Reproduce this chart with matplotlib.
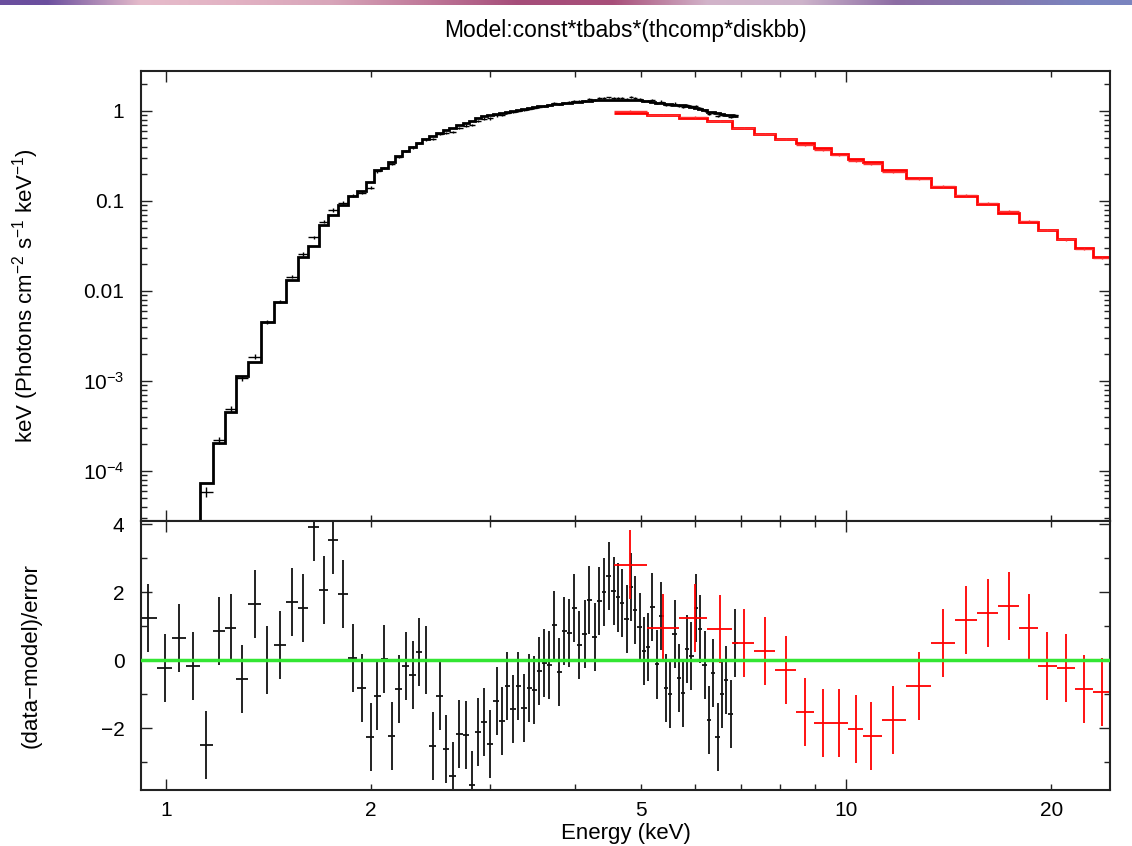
import numpy as np
import matplotlib.pyplot as plt
from matplotlib.colors import to_rgb

plt.rcParams['font.family'] = ['Liberation Sans', 'DejaVu Sans']
plt.rcParams['mathtext.fontset'] = 'custom'
plt.rcParams['mathtext.rm'] = 'Liberation Sans'
plt.rcParams['mathtext.it'] = 'Liberation Sans:italic'
plt.rcParams['mathtext.bf'] = 'Liberation Sans:bold'

# black spectrum (low energy instrument): bin centres (keV)
black_energy = [0.942, 0.999, 1.046, 1.097, 1.148, 1.196, 1.246, 1.295, 1.352, 1.411,
                1.471, 1.534, 1.591, 1.651, 1.706, 1.761, 1.823, 1.882, 1.941, 2.000,
                2.045, 2.095, 2.147, 2.199, 2.254, 2.306, 2.355, 2.412, 2.467, 2.529,
                2.581, 2.640, 2.700, 2.759, 2.821, 2.879, 2.935, 2.995, 3.064, 3.122,
                3.176, 3.241, 3.296, 3.361, 3.421, 3.480, 3.539, 3.600, 3.662, 3.724,
                3.788, 3.853, 3.919, 3.986, 4.054, 4.124, 4.194, 4.266, 4.335, 4.404,
                4.479, 4.549, 4.617, 4.685, 4.754, 4.825, 4.895, 4.967, 5.041, 5.110,
                5.190, 5.268, 5.345, 5.431, 5.511, 5.592, 5.668, 5.746, 5.832, 5.918,
                6.013, 6.101, 6.190, 6.283, 6.375, 6.469, 6.566, 6.662, 6.760, 6.868]
black_model = [5e-7, 1.8e-6, 6e-6, 2.0e-5, 7.4e-5, 2.06e-4, 4.49e-4, 1.14e-3, 1.64e-3, 4.49e-3,
               7.49e-3, 0.0133, 0.0237, 0.0319, 0.0537, 0.0699, 0.0903, 0.1146, 0.130, 0.161,
               0.221, 0.234, 0.274, 0.318, 0.361, 0.399, 0.438, 0.482, 0.525, 0.576,
               0.613, 0.654, 0.695, 0.738, 0.782, 0.826, 0.868, 0.895, 0.926, 0.953,
               0.976, 1.005, 1.028, 1.058, 1.082, 1.102, 1.122, 1.142, 1.163, 1.181,
               1.199, 1.214, 1.233, 1.249, 1.262, 1.278, 1.291, 1.308, 1.322, 1.327,
               1.329, 1.329, 1.332, 1.332, 1.334, 1.335, 1.329, 1.308, 1.291, 1.275,
               1.255, 1.240, 1.224, 1.208, 1.193, 1.178, 1.166, 1.151, 1.139, 1.119,
               1.082, 1.050, 1.018, 0.985, 0.962, 0.945, 0.929, 0.912, 0.896, 0.880]
black_flux = [5.6e-7, 1.75e-6, 6.5e-6, 1.95e-5, 5.9e-5, 2.21e-4, 4.85e-4, 1.07e-3, 1.86e-3, 4.49e-3,
              7.6e-3, 0.0144, 0.0256, 0.0395, 0.0589, 0.0794, 0.0958, 0.1146, 0.1237, 0.1406,
              0.213, 0.234, 0.256, 0.310, 0.359, 0.394, 0.441, 0.482, 0.485, 0.558,
              0.565, 0.587, 0.650, 0.689, 0.696, 0.774, 0.821, 0.828, 0.892, 0.902,
              0.957, 0.969, 1.008, 1.020, 1.060, 1.078, 1.113, 1.139, 1.159, 1.211,
              1.188, 1.240, 1.258, 1.297, 1.276, 1.303, 1.348, 1.330, 1.379, 1.394,
              1.411, 1.397, 1.393, 1.388, 1.374, 1.422, 1.388, 1.346, 1.301, 1.289,
              1.313, 1.235, 1.272, 1.178, 1.157, 1.205, 1.148, 1.118, 1.150, 1.123,
              1.132, 1.079, 1.013, 0.933, 0.951, 0.881, 0.901, 0.896, 0.853, 0.893]
black_ferr = [0.12, 0.12, 0.12, 0.12, 0.12, 0.09, 0.08, 0.07, 0.06, 0.05,
              0.045, 0.045, 0.045, 0.04, 0.04, 0.04, 0.04, 0.04, 0.04, 0.04,
              0.04, 0.03, 0.03, 0.03, 0.03, 0.03, 0.03, 0.03, 0.03, 0.03,
              0.03, 0.03, 0.03, 0.03, 0.03, 0.03, 0.03, 0.03, 0.03, 0.03,
              0.025, 0.025, 0.025, 0.025, 0.025, 0.025, 0.025, 0.025, 0.025, 0.025,
              0.025, 0.025, 0.025, 0.025, 0.025, 0.025, 0.025, 0.025, 0.025, 0.025,
              0.025, 0.025, 0.025, 0.025, 0.025, 0.03, 0.03, 0.03, 0.03, 0.03,
              0.03, 0.03, 0.03, 0.03, 0.03, 0.03, 0.03, 0.03, 0.03, 0.03,
              0.03, 0.03, 0.03, 0.03, 0.03, 0.03, 0.03, 0.03, 0.03, 0.03]
black_resid = [1.24, -0.22, 0.64, -0.17, -2.5, 0.85, 0.93, -0.55, 1.64, 0.0,
               0.45, 1.72, 1.53, 3.9, 2.06, 3.54, 1.94, 0.07, -0.83, -2.27,
               -1.06, 0.04, -2.23, -0.84, -0.18, -0.44, 0.23, 0.0, -2.54, -1.05,
               -2.61, -3.41, -2.17, -2.21, -3.66, -2.11, -1.81, -2.48, -1.21, -1.79,
               -0.76, -1.44, -0.76, -1.42, -0.81, -0.88, -0.32, -0.1, -0.15, 1.03,
               -0.36, 0.86, 0.80, 1.53, 0.44, 0.78, 1.78, 0.67, 1.73, 2.01,
               2.47, 2.04, 1.84, 1.67, 1.21, 2.16, 1.47, 0.96, 0.27, 0.37,
               1.55, -0.13, 1.30, -0.83, -1.01, 0.76, -0.52, -0.96, 0.33, 0.12,
               1.53, 0.91, -0.15, -1.76, -0.39, -2.27, -1.0, -0.59, -1.59, 0.49]

# red spectrum (hard X-ray instrument)
red_energy = [4.814, 5.387, 5.984, 6.513, 7.064, 7.584, 8.153, 8.695, 9.229, 9.756,
              10.33, 10.87, 11.70, 12.77, 13.88, 15.01, 16.14, 17.33, 18.54, 19.73,
              21.04, 22.34, 23.71]
red_model = [0.943, 0.891, 0.836, 0.764, 0.642, 0.558, 0.489, 0.438, 0.388, 0.334,
             0.293, 0.273, 0.221, 0.180, 0.144, 0.1137, 0.0919, 0.0741, 0.0589, 0.0476,
             0.0375, 0.0298, 0.0237]
red_flux = [1.004, 0.910, 0.860, 0.780, 0.650, 0.561, 0.486, 0.423, 0.372, 0.320,
            0.279, 0.259, 0.212, 0.177, 0.1456, 0.1168, 0.0948, 0.0768, 0.0602, 0.0474,
            0.0373, 0.0292, 0.0232]
red_ferr = [0.023, 0.022, 0.022, 0.022, 0.023, 0.023, 0.024, 0.024, 0.025, 0.025,
            0.026, 0.026, 0.026, 0.027, 0.027, 0.028, 0.028, 0.029, 0.029, 0.030,
            0.030, 0.031, 0.031]
red_resid = [2.81, 0.95, 1.23, 0.91, 0.51, 0.27, -0.29, -1.52, -1.84, -1.84,
             -2.04, -2.24, -1.77, -0.75, 0.49, 1.17, 1.38, 1.59, 0.95, -0.17,
             -0.24, -0.85, -0.93]

band_colors = ['#6b4f9e', '#e6bccb', '#e2b2c3', '#d8a6ba', '#c07a9a', '#a54d79',
               '#a84f79', '#d2b3c9', '#cdb4cb', '#8d6da4', '#8577ad', '#7a84bf']


def bin_edges(centres):
    lc = np.log10(centres)
    mid = (lc[1:] + lc[:-1]) / 2
    return 10 ** np.concatenate([[2 * lc[0] - mid[0]], mid, [2 * lc[-1] - mid[-1]]])


def xerrs(centres, edges):
    c = np.asarray(centres)
    return [c - edges[:-1], edges[1:] - c]


be = bin_edges(black_energy)
re = bin_edges(red_energy)

fig = plt.figure(figsize=(11.32, 8.46), dpi=100)
ax1 = fig.add_axes([0.1246, 0.3842, 0.8560, 0.5319])
ax2 = fig.add_axes([0.1246, 0.0662, 0.8560, 0.3180], sharex=ax1)

# top colour strip of the screenshot
axb = fig.add_axes([0, 1 - 5 / 846, 1, 5 / 846])
axb.imshow([[to_rgb(c) for c in band_colors]], aspect='auto', interpolation='bilinear')
axb.axis('off')

# spectrum panel
ax1.errorbar(black_energy, black_flux, xerr=xerrs(black_energy, be),
             yerr=np.array(black_flux) * np.array(black_ferr),
             fmt='none', ecolor='black', elinewidth=1.0, capsize=0)
ax1.stairs(black_model, be, color='black', lw=2.0, baseline=None)
ax1.errorbar(red_energy, red_flux, xerr=xerrs(red_energy, re),
             yerr=np.array(red_flux) * np.array(red_ferr),
             fmt='none', ecolor='#ff3030', elinewidth=1.0, capsize=0)
ax1.stairs(red_model, re, color='#ff0000', lw=2.0, baseline=None)

ax1.set_xscale('log')
ax1.set_yscale('log')
ax1.set_xlim(0.92, 24.4)
ax1.set_ylim(2.78e-5, 2.78)
ax1.set_yticks([1e-4, 1e-3, 1e-2, 0.1, 1])
ax1.set_yticklabels([r'$10^{-4}$', r'$10^{-3}$', '0.01', '0.1', '1'])
ax1.set_ylabel(r'keV (Photons cm$^{-2}$ s$^{-1}$ keV$^{-1}$)', fontsize=16)
ax1.yaxis.set_label_coords(-0.103, 0.5)
ax1.tick_params(labelbottom=False)

# residual panel
ax2.errorbar(black_energy, black_resid, xerr=xerrs(black_energy, be), yerr=1,
             fmt='none', ecolor='#111111', elinewidth=1.3, capsize=0)
ax2.errorbar(red_energy, red_resid, xerr=xerrs(red_energy, re), yerr=1,
             fmt='none', ecolor='#ff0000', elinewidth=1.3, capsize=0)
ax2.axhline(0, color='#33e633', lw=2.5, zorder=5)
ax2.set_ylim(-3.82, 4.09)
ax2.set_yticks([-2, 0, 2, 4])
ax2.set_yticklabels(['\u22122', '0', '2', '4'])
ax2.set_yticks([-3, -1, 1, 3], minor=True)
ax2.set_ylabel('(data\u2212model)/error', fontsize=16)
ax2.yaxis.set_label_coords(-0.103, 0.5)

ax2.set_xticks([1, 10])
ax2.set_xticklabels(['1', '10'])
ax2.set_xticks([2, 3, 4, 5, 6, 7, 8, 9, 20], minor=True)
ax2.set_xticklabels(['2', '', '', '5', '', '', '', '', '20'], minor=True)
ax2.set_xlabel('Energy (keV)', fontsize=16)
ax2.xaxis.set_label_coords(0.5, -0.122)

for ax in (ax1, ax2):
    ax.tick_params(which='both', direction='in', top=True, right=True,
                   labelsize=15, width=1.0, color='#222222')
    ax.tick_params(which='major', length=8)
    ax.tick_params(which='minor', length=4)
    ax.tick_params(axis='y', which='both', pad=12)
    ax.tick_params(axis='x', which='both', pad=8)
    for s in ax.spines.values():
        s.set_linewidth(1.5)
        s.set_color('#222222')

fig.text(0.5526, 1 - 30 / 846, 'Model:const*tbabs*(thcomp*diskbb)',
         ha='center', va='center', fontsize=16.5)

plt.savefig('out.png', dpi=100)
